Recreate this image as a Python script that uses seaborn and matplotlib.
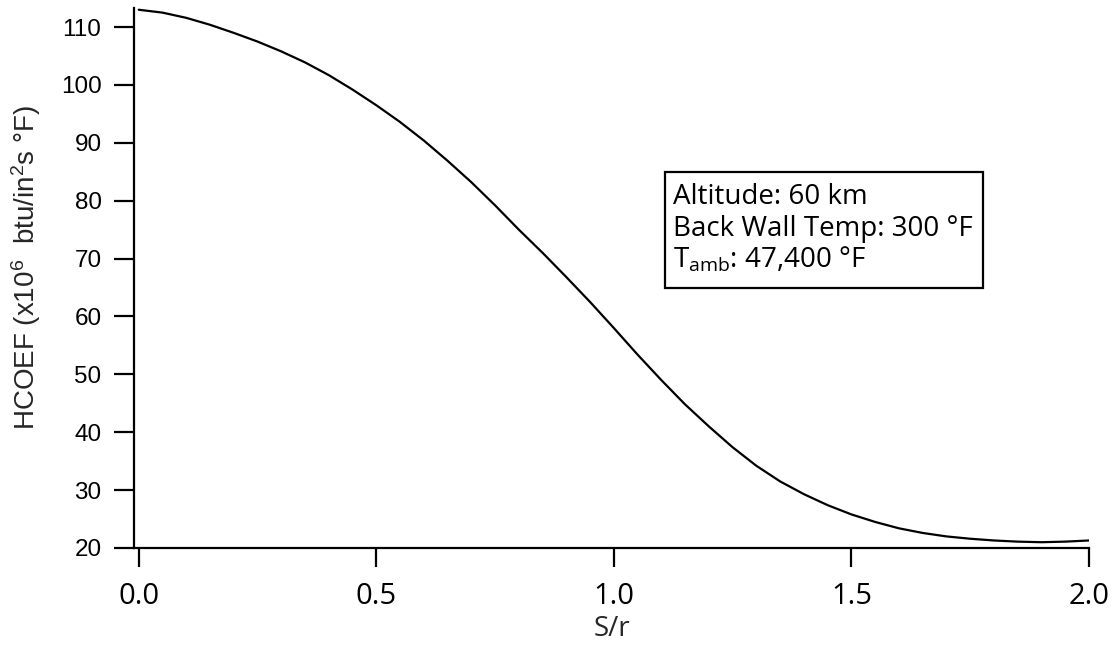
import numpy as np
import pandas as pd
import matplotlib
matplotlib.use("Agg")
import matplotlib.pyplot as plt
import matplotlib.patches as mpatches
import seaborn as sns

# Data
s_over_r = [0.00, 0.05, 0.10, 0.15, 0.20, 0.25, 0.30, 0.35, 0.40, 0.45, 0.50,
            0.55, 0.60, 0.65, 0.70, 0.75, 0.80, 0.85, 0.90, 0.95, 1.00,
            1.05, 1.10, 1.15, 1.20, 1.25, 1.30, 1.35, 1.40, 1.45, 1.50,
            1.55, 1.60, 1.65, 1.70, 1.75, 1.80, 1.85, 1.90, 1.95, 2.00]
hcoef = [113.0, 112.5, 111.6, 110.4, 109.0, 107.5, 105.8, 103.9, 101.7, 99.2, 96.5,
         93.6, 90.4, 86.9, 83.2, 79.2, 75.0, 71.0, 66.8, 62.5, 58.0,
         53.4, 49.0, 44.8, 41.0, 37.4, 34.2, 31.5, 29.3, 27.4, 25.8,
         24.5, 23.4, 22.6, 22.0, 21.6, 21.3, 21.1, 21.0, 21.1, 21.3]
x_ticks = [0.0, 0.5, 1.0, 1.5, 2.0]
x_tick_labels = ["0.0", "0.5", "1.0", "1.5", "2.0"]
y_ticks = [20, 30, 40, 50, 60, 70, 80, 90, 100, 110]
info_lines = ["Altitude: 60 km", "Back Wall Temp: 300 °F", r"$\mathregular{T_{amb}}$: 47,400 °F"]

sns.set_style("ticks")
plt.rcParams['font.family'] = ['Liberation Sans', 'DejaVu Sans']
HUMANIST = ['Open Sans', 'DejaVu Sans']

W, H = 1117, 649
fig = plt.figure(figsize=(W / 100, H / 100), dpi=100)
ax = fig.add_axes([134 / W, (H - 548) / H, (1089 - 134) / W, (548 - 8) / H])

df = pd.DataFrame({"S/r": s_over_r, "HCOEF": hcoef})
sns.lineplot(data=df, x="S/r", y="HCOEF", ax=ax, color="black", linewidth=1.6)

ax.set_xlim(-0.01, 2.0)
ax.set_ylim(20, 113.3)
ax.set_xticks(x_ticks)
ax.set_xticklabels(x_tick_labels, family=HUMANIST)
ax.set_yticks(y_ticks)

for sp in ["top", "right"]:
    ax.spines[sp].set_visible(False)
for sp in ["left", "bottom"]:
    ax.spines[sp].set_linewidth(1.6)
    ax.spines[sp].set_color("black")

ax.tick_params(axis="y", length=14.4, width=1.6, pad=9, labelsize=17.5, colors="black")
ax.tick_params(axis="x", length=13.7, width=1.6, pad=11, labelsize=21, colors="black")

ax.set_xlabel("S/r", fontsize=20, labelpad=3, family=HUMANIST)
ax.set_ylabel(r"HCOEF (x10$\mathregular{^{6}}$  btu/in$\mathregular{^{2}}$s °F)", fontsize=20, labelpad=8)
ax.yaxis.set_label_coords(-0.095, 0.52)

# Info box
rect = mpatches.Rectangle((665 / W, (H - 288) / H), (983 - 665) / W, (288 - 172) / H,
                          transform=fig.transFigure, fill=False, edgecolor="black",
                          linewidth=1.6)
fig.patches.append(rect)
baselines = [204, 236, 267]
for line, yb in zip(info_lines, baselines):
    fig.text(673 / W, (H - yb) / H, line, fontsize=20, family=HUMANIST,
             ha="left", va="baseline", color="black")

fig.savefig("out.png", dpi=100, facecolor="white")
